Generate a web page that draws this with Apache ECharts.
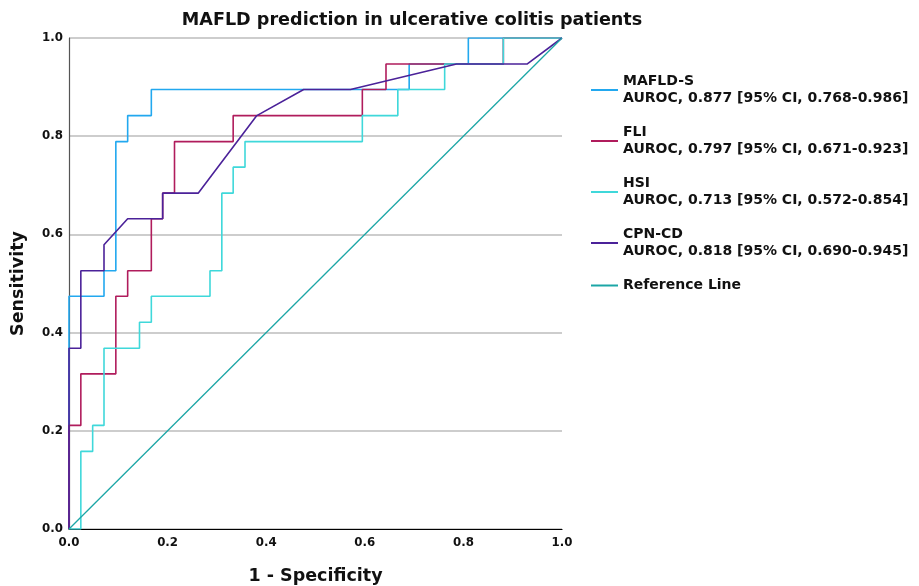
<!DOCTYPE html>
<html>
<head>
<meta charset="utf-8">
<script src="https://cdn.jsdelivr.net/npm/echarts@6/dist/echarts.min.js"></script>
<style>html,body{margin:0;padding:0;background:#fff}#c{width:919px;height:586px}</style>
</head>
<body>
<div id="c"></div>
<script>
// ---- data ----
const titleText = 'MAFLD prediction in ulcerative colitis patients';
const xAxisName = '1 - Specificity';
const yAxisName = 'Sensitivity';
const tickValues = [0, 0.2, 0.4, 0.6, 0.8, 1.0];

const seriesNames = [
  'MAFLD-S\nAUROC, 0.877 [95% CI, 0.768-0.986]',
  'FLI\nAUROC, 0.797 [95% CI, 0.671-0.923]',
  'HSI\nAUROC, 0.713 [95% CI, 0.572-0.854]',
  'CPN-CD\nAUROC, 0.818 [95% CI, 0.690-0.945]',
  'Reference Line'
];

const mafldX = [0, 0, 0.071, 0.071, 0.095, 0.095, 0.119, 0.119, 0.167, 0.167, 0.690, 0.690, 0.810, 0.810, 1];
const mafldY = [0, 0.474, 0.474, 0.526, 0.526, 0.789, 0.789, 0.842, 0.842, 0.895, 0.895, 0.947, 0.947, 1, 1];

const fliX = [0, 0, 0.024, 0.024, 0.095, 0.095, 0.119, 0.119, 0.167, 0.167, 0.190, 0.190, 0.214, 0.214, 0.333, 0.333, 0.595, 0.595, 0.643, 0.643, 0.881, 0.881, 1];
const fliY = [0, 0.211, 0.211, 0.316, 0.316, 0.474, 0.474, 0.526, 0.526, 0.632, 0.632, 0.684, 0.684, 0.789, 0.789, 0.842, 0.842, 0.895, 0.895, 0.947, 0.947, 1, 1];

const hsiX = [0, 0.024, 0.024, 0.048, 0.048, 0.071, 0.071, 0.143, 0.143, 0.167, 0.167, 0.286, 0.286, 0.310, 0.310, 0.333, 0.333, 0.357, 0.357, 0.595, 0.595, 0.667, 0.667, 0.762, 0.762, 0.881, 0.881, 1];
const hsiY = [0, 0, 0.158, 0.158, 0.211, 0.211, 0.368, 0.368, 0.421, 0.421, 0.474, 0.474, 0.526, 0.526, 0.684, 0.684, 0.737, 0.737, 0.789, 0.789, 0.842, 0.842, 0.895, 0.895, 0.947, 0.947, 1, 1];

const cpnX = [0, 0, 0.024, 0.024, 0.071, 0.071, 0.119, 0.190, 0.190, 0.262, 0.381, 0.476, 0.571, 0.786, 0.929, 1];
const cpnY = [0, 0.368, 0.368, 0.526, 0.526, 0.579, 0.632, 0.632, 0.684, 0.684, 0.842, 0.895, 0.895, 0.947, 0.947, 1];

const refX = [0, 1];
const refY = [0, 1];

// ---- styling ----
const colors = ['#22a8ef', '#b01c5c', '#3fd8da', '#4b2299', '#1ca6a6'];
const FONT = '"DejaVu Sans", sans-serif';

function pairs(xs, ys) { return xs.map((x, i) => [x, ys[i]]); }
const allData = [pairs(mafldX, mafldY), pairs(fliX, fliY), pairs(hsiX, hsiY), pairs(cpnX, cpnY), pairs(refX, refY)];

const chart = echarts.init(document.getElementById('c'), null, {renderer: 'canvas'});
chart.setOption({
  animation: false,
  backgroundColor: '#ffffff',
  color: colors,
  title: {
    text: titleText,
    left: 407,
    textAlign: 'center',
    top: 6,
    textStyle: {fontFamily: FONT, fontWeight: 'bold', fontSize: 17.6, color: '#111'}
  },
  grid: {left: 69, right: 357, top: 38, bottom: 57, containLabel: false, outerBoundsMode: 'none'},
  legend: {
    orient: 'vertical',
    left: 591,
    top: 73,
    padding: 0,
    itemGap: 17,
    itemWidth: 27,
    itemHeight: 2,
    icon: 'rect',
    selectedMode: false,
    data: seriesNames,
    textStyle: {fontFamily: FONT, fontWeight: 'bold', fontSize: 14, color: '#111', lineHeight: 17}
  },
  xAxis: {
    type: 'value', min: 0, max: 1, interval: 0.2,
    name: xAxisName, nameLocation: 'middle', nameGap: 38,
    nameTextStyle: {fontFamily: FONT, fontWeight: 'bold', fontSize: 17.5, color: '#111'},
    axisLine: {show: true, lineStyle: {color: '#000', width: 1.2}},
    axisTick: {show: false},
    splitLine: {show: false},
    axisLabel: {fontFamily: FONT, fontWeight: 'bold', fontSize: 11.8, color: '#111', margin: 8,
      formatter: v => v.toFixed(1)}
  },
  yAxis: {
    type: 'value', min: 0, max: 1, interval: 0.2,
    name: yAxisName, nameLocation: 'middle', nameGap: 42,
    nameTextStyle: {fontFamily: FONT, fontWeight: 'bold', fontSize: 17.5, color: '#111'},
    axisLine: {show: true, lineStyle: {color: '#555', width: 1.2}},
    axisTick: {show: false},
    splitLine: {show: true, lineStyle: {color: '#bdbdbd', width: 1.5}},
    axisLabel: {fontFamily: FONT, fontWeight: 'bold', fontSize: 11.8, color: '#111', margin: 6,
      formatter: v => v.toFixed(1)}
  },
  series: seriesNames.map((name, i) => ({
    name: name,
    type: 'line',
    data: allData[i],
    symbol: 'none',
    showSymbol: false,
    lineStyle: {color: colors[i], width: i === 4 ? 1.3 : 1.6},
    itemStyle: {color: colors[i]},
    z: 2 + i,
    silent: true
  }))
});
</script>
</body>
</html>
